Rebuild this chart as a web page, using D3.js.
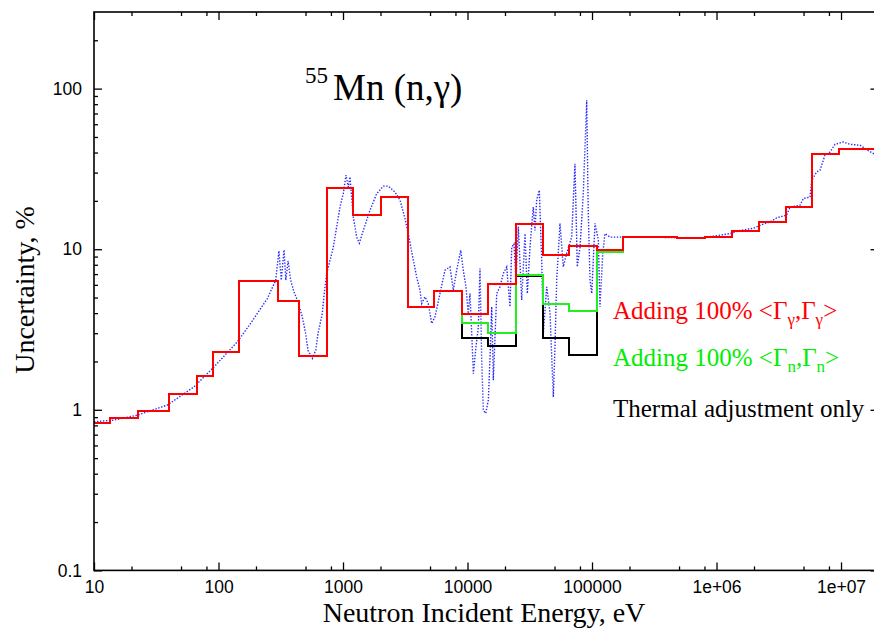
<!DOCTYPE html>
<meta charset="utf-8">
<style>
  body { margin: 0; background: #fff; }
  .tick text { font-family: "Liberation Sans", Arial, sans-serif; font-size: 17.5px; fill: #000; }
  .tick line { stroke: #000; stroke-width: 1.3; }
  .serif { font-family: "Liberation Serif", "Times New Roman", serif; }
  .step { fill: none; stroke-width: 2; shape-rendering: crispEdges; }
</style>
<svg width="874" height="633"></svg>
<script src="https://cdnjs.cloudflare.com/ajax/libs/d3/7.8.5/d3.min.js"></script>
<script>

// group boundaries (eV) and step values (%)
var edges = [10, 13.4, 22.4, 40, 67.5, 90, 146, 300, 446, 740, 1210, 2010, 3310, 5410, 9000,
             14700, 24400, 40200, 65800, 109000, 178600, 292000, 484000, 808000, 1320000,
             2190000, 3600000, 5900000, 9700000, 20000000];
var thermal = [0.83, 0.884, 0.986, 1.25, 1.62, 2.30, 6.32, 4.75, 2.17, 24.1, 16.4, 21.2, 4.36, 5.5,
               2.82, 2.49, 6.77, 2.82, 2.19, 9.6, 11.9, 11.9, 11.7, 11.9, 13.0, 14.8, 18.2, 39.4, 42.3];
var gammaN = [0.83, 0.884, 0.986, 1.25, 1.62, 2.30, 6.32, 4.75, 2.17, 24.1, 16.4, 21.2, 4.36, 5.5,
              3.45, 3.01, 6.87, 4.57, 4.13, 9.6, 11.9, 11.9, 11.7, 11.9, 13.0, 14.8, 18.2, 39.4, 42.3];
var gammaG = [0.83, 0.884, 0.986, 1.25, 1.62, 2.30, 6.32, 4.75, 2.17, 24.1, 16.4, 21.2, 4.36, 5.5,
              3.94, 6.03, 14.4, 9.18, 10.5, 9.86, 11.9, 11.9, 11.7, 11.9, 13.0, 14.8, 18.2, 39.4, 42.3];

// fine (pointwise) uncertainty, dotted blue
var fineE = [10, 14.5, 22.3, 38.8, 63.6, 92, 141.6, 181, 247, 288, 306, 319, 336, 347, 362, 380, 404,
  435, 471, 501, 523, 567, 604, 630, 682, 704, 740, 836, 890, 946, 1005, 1057, 1103, 1138, 1174,
  1210, 1288, 1352, 1456, 1648, 1866, 2108, 2312, 2617, 2871, 3148, 3344, 3671, 3906, 4150, 4285,
  4557, 4842, 5157, 5480, 6010, 6590, 7230, 7690, 8190, 8820, 9250, 9720, 10140, 10470, 10800,
  11140, 11700, 12220, 12600, 13000, 13400, 14000, 14700, 15170, 15640, 16110, 17170, 18240,
  19400, 20650, 21940, 22650, 23620, 24520, 25600, 27240, 28960, 30220, 31760, 33760, 34830,
  35940, 37740, 39450, 40650, 43270, 46030, 48900, 50430, 52040, 55300, 58760, 62520, 68660,
  72950, 76160, 80100, 85150, 90610, 93360, 96390, 99500, 105700, 112400, 115900, 121900,
  127100, 139500, 292000, 736000, 1280000, 1545000, 1980000, 2240000, 2690000, 3050000,
  3660000, 3890000, 4690000, 4980000, 5640000, 5820000, 6380000, 6780000, 7430000, 8160000,
  8950000, 10430000, 11800000, 14200000, 16100000, 18200000, 20000000];
var fineV = [0.842, 0.863, 0.927, 1.07, 1.39, 1.85, 2.65, 3.45, 4.93, 6.41, 9.76, 6.41, 9.9, 6.41,
  8.45, 6.41, 5.42, 4.70, 3.79, 2.99, 2.35, 2.09, 2.35, 2.99, 3.98, 5.17, 7.06, 10.3, 13.8, 18.3,
  22.2, 28.9, 24.4, 28.2, 21.1, 15.9, 11.9, 10.9, 13.1, 17.5, 22.2, 24.7, 24.7, 22.7, 20.2, 15.5,
  12.5, 8.54, 6.72, 5.56, 4.59, 5.05, 4.59, 3.45, 3.79, 5.30, 7.40, 7.76, 5.56, 7.40, 9.86, 7.40,
  5.83, 3.98, 5.30, 2.99, 1.68, 2.47, 3.28, 7.59, 2.04, 0.996, 0.95, 1.15, 2.14, 4.38, 1.53, 5.30,
  5.83, 7.06, 7.76, 4.38, 10.3, 10.8, 6.41, 13.8, 4.82, 12.5, 5.30, 10.3, 18.3, 13.1, 20.2, 23.3,
  8.54, 2.99, 5.83, 3.98, 1.2, 2.47, 6.41, 14.5, 7.76, 9.40, 11.9, 34.1, 7.76, 10.3, 22.2, 84.6,
  16.7, 6.41, 5.30, 14.5, 11.4, 4.38, 9.40, 12.5, 11.9, 11.9, 11.7, 12.5, 13.1, 13.5, 14.1, 14.8,
  15.7, 16.3, 18.3, 18.8, 20.7, 21.1, 26.9, 30.3, 31.0, 38.5, 40.3, 45.0, 46.5, 45.0, 44.4, 41.7,
  39.4, 38.5];

var xMajor = [10, 100, 1000, 10000, 100000, 1e6, 1e7];
var xLabels = ["10", "100", "1000", "10000", "100000", "1e+06", "1e+07"];
var yMajor = [0.1, 1, 10, 100];
var yLabels = ["0.1", "1", "10", "100"];

var svg = d3.select("svg"),
    plotL = 94, plotR = 878.5, plotT = 12, plotB = 570.4;

svg.append("rect").attr("width", 874).attr("height", 633).attr("fill", "#fff");

var x = d3.scaleLog().domain([10, 2e7]).range([plotL, plotR]);
var y = d3.scaleLog().domain([0.1, 300]).range([plotB, plotT]);

var xMinor = [], yMinor = [];
xMajor.forEach(function(d) { [2, 5, 8].forEach(function(m) { if (d * m <= 2e7) xMinor.push(d * m); }); });
yMajor.forEach(function(d) { d3.range(2, 10).forEach(function(m) { if (d * m < 300) yMinor.push(d * m); }); });

var plot = svg.append("g");
plot.append("clipPath").attr("id", "clip")
  .append("rect").attr("x", plotL).attr("y", plotT).attr("width", plotR - plotL).attr("height", plotB - plotT);

// dotted pointwise curve
var fine = fineE.map(function(e, i) { return [e, fineV[i]]; });
plot.append("path")
    .datum(fine)
    .attr("clip-path", "url(#clip)")
    .attr("fill", "none")
    .attr("stroke", "#2a2aff")
    .attr("stroke-width", 1.4)
    .attr("stroke-dasharray", "1.4,1.6")
    .attr("d", d3.line().x(function(d) { return x(d[0]); }).y(function(d) { return y(d[1]); }));

var step = d3.line().curve(d3.curveStepAfter)
    .x(function(d) { return x(d[0]); }).y(function(d) { return y(d[1]); });

function stepData(vals) {
  var pts = vals.map(function(v, i) { return [edges[i], v]; });
  pts.push([edges[edges.length - 1], vals[vals.length - 1]]);
  return pts;
}

[[thermal, "#000"], [gammaN, "#22ee22"], [gammaG, "#ff0000"]].forEach(function(s) {
  plot.append("path")
      .datum(stepData(s[0]))
      .attr("class", "step")
      .attr("clip-path", "url(#clip)")
      .attr("stroke", s[1])
      .attr("d", step);
});

// axes, ticks pointing inward on all four sides
function addAxis(axis, tf) {
  var g = svg.append("g").attr("transform", tf).call(axis);
  g.select(".domain").remove();
  return g;
}
addAxis(d3.axisBottom(x).tickValues(xMajor).tickFormat(function(d, i) { return xLabels[i]; })
  .tickSize(-8).tickPadding(10.5), "translate(0," + plotB + ")");
addAxis(d3.axisBottom(x).tickValues(xMinor).tickFormat("").tickSize(-4), "translate(0," + plotB + ")");
addAxis(d3.axisTop(x).tickValues(xMajor).tickFormat("").tickSize(-8), "translate(0," + plotT + ")");
addAxis(d3.axisTop(x).tickValues(xMinor).tickFormat("").tickSize(-4), "translate(0," + plotT + ")");
addAxis(d3.axisLeft(y).tickValues(yMajor).tickFormat(function(d, i) { return yLabels[i]; })
  .tickSize(-8).tickPadding(12), "translate(" + plotL + ",0)");
addAxis(d3.axisLeft(y).tickValues(yMinor).tickFormat("").tickSize(-4), "translate(" + plotL + ",0)");
addAxis(d3.axisRight(y).tickValues(yMajor).tickFormat("").tickSize(-8), "translate(" + plotR + ",0)");
addAxis(d3.axisRight(y).tickValues(yMinor).tickFormat("").tickSize(-4), "translate(" + plotR + ",0)");

svg.append("rect")
    .attr("x", plotL).attr("y", plotT).attr("width", plotR - plotL).attr("height", plotB - plotT)
    .attr("fill", "none").attr("stroke", "#000").attr("stroke-width", 1.6);

// titles
svg.append("text").attr("class", "serif")
    .attr("x", 484).attr("y", 622)
    .attr("text-anchor", "middle").attr("font-size", 28)
    .text("Neutron Incident Energy, eV");

svg.append("text").attr("class", "serif")
    .attr("transform", "translate(34,290) rotate(-90)")
    .attr("text-anchor", "middle").attr("font-size", 28)
    .text("Uncertainty, %");

var title = svg.append("text").attr("class", "serif").attr("x", 305).attr("y", 100);
title.append("tspan").attr("font-size", 23).attr("dy", -17).text("55");
title.append("tspan").attr("font-size", 37).attr("dx", 5).attr("dy", 17).text("Mn (n,\u03b3)");

// legend
function legendLine(yPos, color, sub) {
  var t = svg.append("text").attr("class", "serif").attr("x", 613).attr("y", yPos)
      .attr("font-size", 25).attr("fill", color);
  t.append("tspan").text("Adding 100% <\u0393");
  t.append("tspan").attr("font-size", 17).attr("dy", 6).text(sub);
  t.append("tspan").attr("dy", -6).text(",\u0393");
  t.append("tspan").attr("font-size", 17).attr("dy", 6).text(sub);
  t.append("tspan").attr("dy", -6).text(">");
}
legendLine(319, "#ff0000", "\u03b3");
legendLine(366, "#00ee00", "n");
svg.append("text").attr("class", "serif").attr("x", 613).attr("y", 417)
    .attr("font-size", 25).attr("fill", "#000").text("Thermal adjustment only");

</script>
